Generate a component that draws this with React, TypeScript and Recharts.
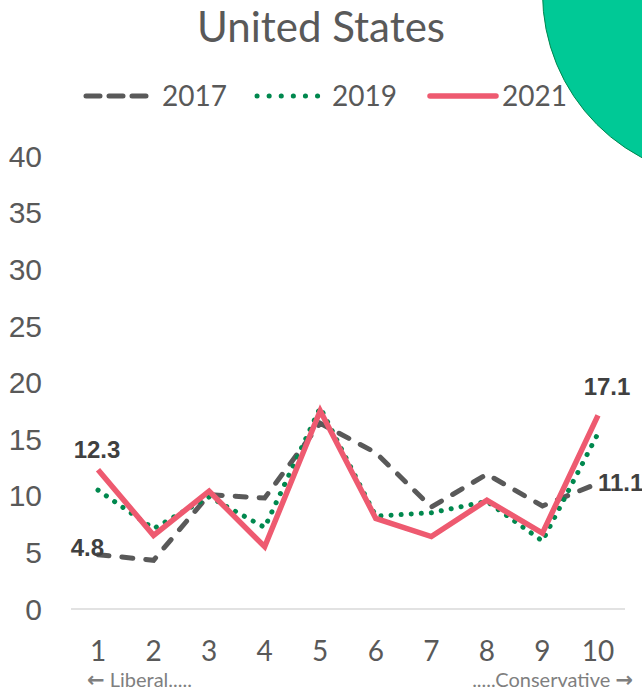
import React from "react";
import { LineChart, Line, XAxis, YAxis, LabelList } from "recharts";

const categories = ["1", "2", "3", "4", "5", "6", "7", "8", "9", "10"];
const values2017 = [4.8, 4.3, 10.1, 9.8, 16.4, 13.8, 9.0, 11.9, 9.1, 11.1];
const values2019 = [10.5, 7.1, 9.9, 7.2, 17.8, 8.2, 8.5, 9.5, 6.0, 15.5];
const values2021 = [12.3, 6.5, 10.4, 5.5, 17.5, 8.0, 6.4, 9.6, 6.7, 17.1];
const yTicks = [0, 5, 10, 15, 20, 25, 30, 35, 40];

const data = categories.map((c, i) => ({
  x: c,
  y2017: values2017[i],
  y2019: values2019[i],
  y2021: values2021[i],
}));

const GREY = "#595959";
const GREEN = "#00884e";
const PINK = "#ee5a70";
const LABEL_FONT = "'Liberation Sans', Arial, sans-serif";
const TEXT_FONT = "Lato, 'Open Sans', sans-serif";

const last = categories.length - 1;

// end-point labels, only first and last point are labelled
const label2017 = (props: any) => {
  const { x, y, value, index } = props;
  if (index !== 0 && index !== last) return null;
  const first = index === 0;
  return (
    <text
      x={first ? x + 6 : x}
      y={first ? y + 1 : y + 8}
      textAnchor={first ? "end" : "start"}
      fontFamily={LABEL_FONT}
      fontWeight="bold"
      fontSize={24}
      fill="#404040"
    >
      {Number(value).toFixed(1)}
    </text>
  );
};

const label2021 = (props: any) => {
  const { x, y, value, index } = props;
  if (index !== 0 && index !== last) return null;
  const first = index === 0;
  return (
    <text
      x={first ? x - 1 : x + 9}
      y={first ? y - 12 : y - 20}
      textAnchor="middle"
      fontFamily={LABEL_FONT}
      fontWeight="bold"
      fontSize={24}
      fill="#404040"
    >
      {Number(value).toFixed(1)}
    </text>
  );
};

export default function App() {
  return (
    <div
      style={{
        position: "absolute",
        left: 0,
        top: 0,
        width: 642,
        height: 692,
        overflow: "hidden",
        background: "#fff",
      }}
    >
      <LineChart
        width={642}
        height={692}
        data={data}
        margin={{ top: 156, right: 17, bottom: 23, left: 0 }}
      >
        <XAxis
          dataKey="x"
          height={60}
          padding={{ left: 27, right: 27 }}
          axisLine={{ stroke: "#d9d9d9", strokeWidth: 1.5 }}
          tickLine={false}
          tickSize={0}
          tickMargin={32}
          interval={0}
          tick={{ fill: GREY, fontSize: 28, fontFamily: TEXT_FONT }}
        />
        <YAxis
          width={71}
          domain={[0, 40]}
          ticks={yTicks}
          axisLine={false}
          tickLine={false}
          tickSize={0}
          tickMargin={29}
          tick={{ fill: GREY, fontSize: 30, fontFamily: LABEL_FONT }}
        />
        <Line
          dataKey="y2017"
          stroke={GREY}
          strokeWidth={5}
          strokeDasharray="11 13"
          strokeLinecap="round"
          dot={false}
          activeDot={false}
          isAnimationActive={false}
        >
          <LabelList dataKey="y2017" content={label2017} />
        </Line>
        <Line
          dataKey="y2019"
          stroke={GREEN}
          strokeWidth={5}
          strokeDasharray="0.1 10"
          strokeLinecap="round"
          dot={false}
          activeDot={false}
          isAnimationActive={false}
        />
        <Line
          dataKey="y2021"
          stroke={PINK}
          strokeWidth={5.5}
          dot={false}
          activeDot={false}
          isAnimationActive={false}
        >
          <LabelList dataKey="y2021" content={label2021} />
        </Line>
      </LineChart>

      <svg
        width={642}
        height={692}
        style={{ position: "absolute", left: 0, top: 0, pointerEvents: "none" }}
      >
        <text x={321} y={42} textAnchor="middle" fontFamily={TEXT_FONT} fontSize={42} fill={GREY}>
          United States
        </text>

        {/* legend */}
        <line x1={86} y1={96} x2={148} y2={96} stroke={GREY} strokeWidth={5} strokeDasharray="14 9" strokeLinecap="round" />
        <text x={162} y={106} fontFamily={TEXT_FONT} fontSize={28} fill={GREY}>2017</text>
        <line x1={257} y1={96} x2={318} y2={96} stroke={GREEN} strokeWidth={5} strokeDasharray="0.1 12" strokeLinecap="round" />
        <text x={332} y={106} fontFamily={TEXT_FONT} fontSize={28} fill={GREY}>2019</text>
        <line x1={430} y1={96} x2={496} y2={96} stroke={PINK} strokeWidth={5.5} strokeLinecap="round" />
        <text x={502} y={106} fontFamily={TEXT_FONT} fontSize={28} fill={GREY}>2021</text>

        <circle cx={728.5} cy={-7} r={186} fill="#00c996" stroke="#00874f" strokeWidth={1} />

        <text x={87} y={687} fontFamily={TEXT_FONT} fontSize={20} fill="#7f7f7f">
          <tspan fontFamily="'DejaVu Sans'" fontWeight="bold" fontSize={21}>←</tspan> Liberal.....
        </text>
        <text x={633} y={687} textAnchor="end" fontFamily={TEXT_FONT} fontSize={20} fill="#7f7f7f">
          .....Conservative <tspan fontFamily="'DejaVu Sans'" fontWeight="bold" fontSize={21}>→</tspan>
        </text>
      </svg>
    </div>
  );
}
